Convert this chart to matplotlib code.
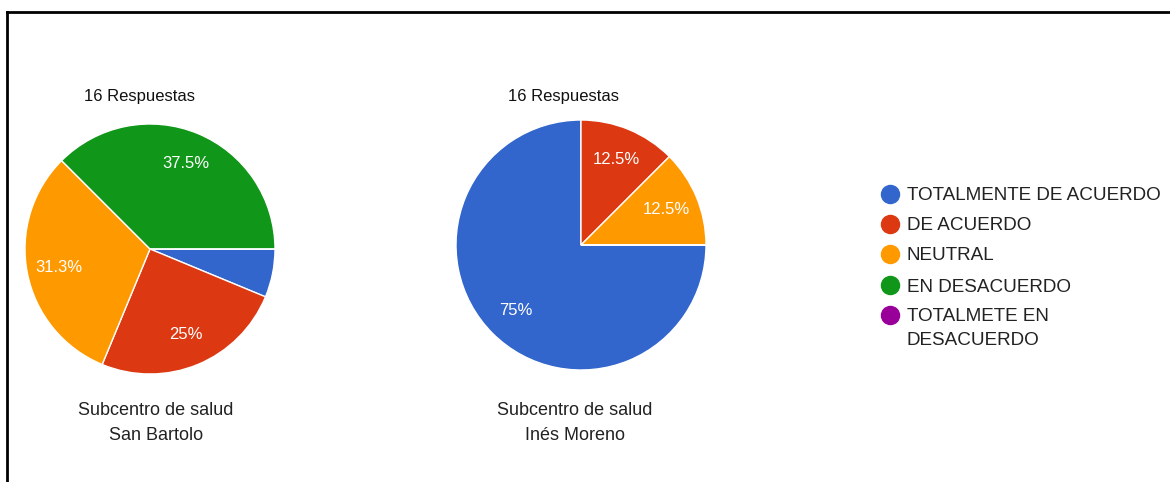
import math
import matplotlib.pyplot as plt
from matplotlib.lines import Line2D

plt.rcParams['font.family'] = ['Liberation Sans', 'DejaVu Sans']

# Data
categorias = ["TOTALMENTE DE ACUERDO", "DE ACUERDO", "NEUTRAL", "EN DESACUERDO",
              "TOTALMETE EN\nDESACUERDO"]
colores = ["#3366cc", "#dc3912", "#ff9900", "#109618", "#990099"]
san_bartolo = [1, 4, 5, 6, 0]
ines_moreno = [12, 2, 2, 0, 0]
respuestas = ["16 Respuestas", "16 Respuestas"]
titulos = ["Subcentro de salud\nSan Bartolo", "Subcentro de salud\nInés Moreno"]

W, H = 1170, 482
fig = plt.figure(figsize=(W / 100, H / 100), dpi=100)


def px_axes(x, y, w, h):
    # pixel box (top-left origin) -> figure axes
    return fig.add_axes([x / W, 1 - (y + h) / H, w / W, h / H])


def fx(x):
    return x / W


def fy(y):
    return 1 - y / H


def fmt_pct(p):
    # google charts style: round half up, hide tiny slices
    if p < 8:
        return ""
    v = math.floor(p * 10 + 0.5) / 10
    s = f"{v:.1f}"
    if s.endswith(".0"):
        s = s[:-2]
    return s + "%"


pies = [(san_bartolo, 25, 124), (ines_moreno, 456, 120)]
for (vals, x, y) in pies:
    ax = px_axes(x, y, 250, 250)
    ax.pie(vals, colors=colores, startangle=0, counterclock=False,
           autopct=fmt_pct, pctdistance=0.74,
           wedgeprops=dict(edgecolor="white", linewidth=1),
           textprops=dict(color="white", fontsize=12))
    ax.set_xlim(-1.0, 1.0)
    ax.set_ylim(-1.0, 1.0)
    ax.set_aspect("equal")
    ax.axis("off")

# text above and below each pie
fig.text(fx(140), fy(96), respuestas[0], ha="center", va="center", fontsize=12, color="#111111")
fig.text(fx(563), fy(96), respuestas[1], ha="center", va="center", fontsize=12, color="#111111")
fig.text(fx(156), fy(423), titulos[0], ha="center", va="center",
         fontsize=13, linespacing=1.6, color="#222222")
fig.text(fx(575), fy(423), titulos[1], ha="center", va="center",
         fontsize=13, linespacing=1.6, color="#222222")

# legend (drawn by hand so the marker sits on the first line)
row_y = [194, 224, 254, 285, 315]
for c, lab, yy in zip(colores, categorias, row_y):
    fig.add_artist(Line2D([fx(890)], [fy(yy)], marker="o", linestyle="none",
                          markersize=13, markerfacecolor=c, markeredgecolor=c))
    if "\n" in lab:
        fig.text(fx(907), fy(yy - 7), lab, ha="left", va="top",
                 fontsize=13.6, color="#222222", linespacing=1.55)
    else:
        fig.text(fx(907), fy(yy), lab, ha="left", va="center_baseline",
                 fontsize=13.6, color="#222222")

# border (only top and left visible)
fig.add_artist(Line2D([fx(7), fx(7)], [0, fy(12)], color="black", linewidth=2))
fig.add_artist(Line2D([fx(7), 1], [fy(12), fy(12)], color="black", linewidth=2))

fig.savefig("out.png", dpi=100)
